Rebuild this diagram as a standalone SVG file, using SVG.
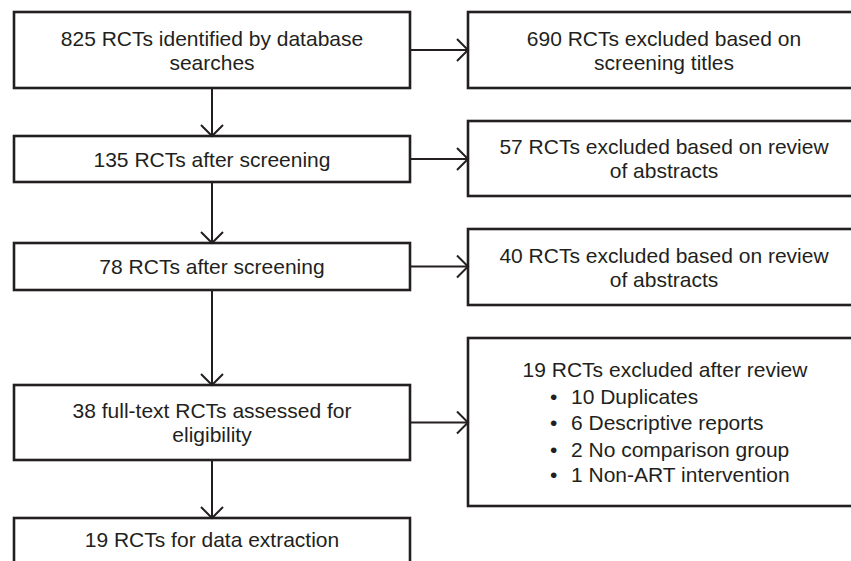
<svg xmlns="http://www.w3.org/2000/svg" width="851" height="561" viewBox="0 0 851 561">
  <style>
    .box { fill: #ffffff; stroke: #231f20; stroke-width: 2.6; }
    .lbl { font-family: "Liberation Sans", Arial, sans-serif; font-size: 21px; fill: #231f20; text-anchor: middle; }
    .item { font-family: "Liberation Sans", Arial, sans-serif; font-size: 21px; fill: #231f20; }
    .link { fill: none; stroke: #231f20; stroke-width: 2; marker-end: url(#arrow); }
  </style>
  <defs>
    <marker id="arrow" markerWidth="16" markerHeight="26" refX="13" refY="12" orient="auto" markerUnits="userSpaceOnUse">
      <path d="M2,1 L13,12 L2,23" fill="none" stroke="#231f20" stroke-width="2"/>
    </marker>
  </defs>
  <rect width="851" height="561" fill="#ffffff"/>

  <!-- main flow, left column -->
  <g id="identified">
    <rect class="box" x="14" y="12" width="396" height="76"/>
    <text class="lbl" x="212" y="45.5">825 RCTs identified by database</text>
    <text class="lbl" x="212" y="69.5">searches</text>
  </g>
  <g id="screened-135">
    <rect class="box" x="14" y="136" width="396" height="46"/>
    <text class="lbl" x="212" y="166.5">135 RCTs after screening</text>
  </g>
  <g id="screened-78">
    <rect class="box" x="14" y="243" width="396" height="47"/>
    <text class="lbl" x="212" y="274">78 RCTs after screening</text>
  </g>
  <g id="full-text">
    <rect class="box" x="14" y="385" width="396" height="75"/>
    <text class="lbl" x="212" y="418">38 full-text RCTs assessed for</text>
    <text class="lbl" x="212" y="442">eligibility</text>
  </g>
  <g id="extraction">
    <rect class="box" x="14" y="518" width="396" height="60"/>
    <text class="lbl" x="212" y="547">19 RCTs for data extraction</text>
  </g>

  <!-- exclusions, right column -->
  <g id="excluded-titles">
    <rect class="box" x="468" y="12" width="400" height="76"/>
    <text class="lbl" x="664" y="45.5">690 RCTs excluded based on</text>
    <text class="lbl" x="664" y="69.5">screening titles</text>
  </g>
  <g id="excluded-abstracts-57">
    <rect class="box" x="468" y="121" width="400" height="75"/>
    <text class="lbl" x="664" y="154">57 RCTs excluded based on review</text>
    <text class="lbl" x="664" y="178">of abstracts</text>
  </g>
  <g id="excluded-abstracts-40">
    <rect class="box" x="468" y="229" width="400" height="76"/>
    <text class="lbl" x="664" y="262.5">40 RCTs excluded based on review</text>
    <text class="lbl" x="664" y="286.5">of abstracts</text>
  </g>
  <g id="excluded-review">
    <rect class="box" x="468" y="338" width="400" height="168"/>
    <text class="lbl" x="665" y="377">19 RCTs excluded after review</text>
    <g class="item">
      <text x="550" y="403.5">•</text><text x="571" y="403.5">10 Duplicates</text>
      <text x="550" y="430">•</text><text x="571" y="430">6 Descriptive reports</text>
      <text x="550" y="456.5">•</text><text x="571" y="456.5">2 No comparison group</text>
      <text x="550" y="482">•</text><text x="571" y="482">1 Non-ART intervention</text>
    </g>
  </g>

  <!-- connectors -->
  <g id="connectors">
    <line class="link" x1="212" y1="88" x2="212" y2="136"/>
    <line class="link" x1="212" y1="182" x2="212" y2="243"/>
    <line class="link" x1="212" y1="290" x2="212" y2="385"/>
    <line class="link" x1="212" y1="460" x2="212" y2="518"/>
    <line class="link" x1="410" y1="50" x2="468" y2="50"/>
    <line class="link" x1="410" y1="159" x2="468" y2="159"/>
    <line class="link" x1="410" y1="266.5" x2="468" y2="266.5"/>
    <line class="link" x1="410" y1="422.5" x2="468" y2="422.5"/>
  </g>
</svg>
